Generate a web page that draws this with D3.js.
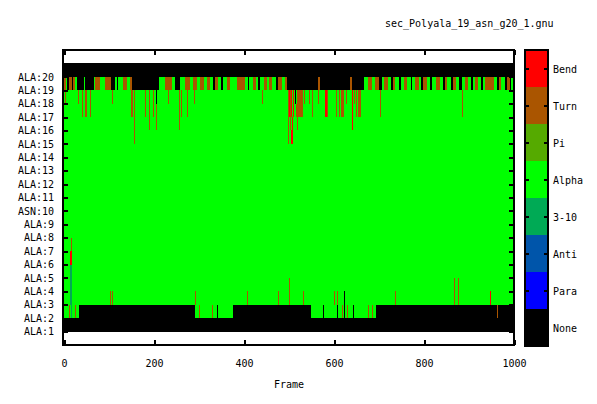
<!DOCTYPE html>
<html><head><meta charset="utf-8">
<script src="https://cdn.jsdelivr.net/npm/d3@7"></script>
<style>
body{margin:0;background:#fff}
svg{display:block}
text{font-family:"DejaVu Sans Mono",monospace;font-size:10px;fill:#000}
</style>
</head><body>
<svg id="chart" width="597" height="404"></svg>
<script>
// ---------------- data ----------------
const title = "sec_Polyala_19_asn_g20_1.gnu";
const xLabel = "Frame";
const residues = ["ALA:1","ALA:2","ALA:3","ALA:4","ALA:5","ALA:6","ALA:7","ALA:8","ALA:9","ASN:10",
  "ALA:11","ALA:12","ALA:13","ALA:14","ALA:15","ALA:16","ALA:17","ALA:18","ALA:19","ALA:20"];
const states = ["None","Para","Anti","3-10","Alpha","Pi","Turn","Bend"];
const frameTicks = [0,200,400,600,800,1000];
const frameCount = 1000;
// default state of each residue (index 0 = ALA:1)
const baseState = ["None","Alpha","Alpha","Alpha","Alpha","Alpha","Alpha","Alpha","Alpha","Alpha",
  "Alpha","Alpha","Alpha","Alpha","Alpha","Alpha","Alpha","Alpha","Alpha","None"];
// residue 2 runs [startFrame, endFrame, state]
const res2Runs = [[33,291,"None"],[376,549,"None"],[693,1000,"None"]];
// residue 19 runs
const res19Runs = [
  [0,5,"Turn"],[5,7,"Alpha"],[7,10,"None"],[10,18,"Turn"],[18,21,"None"],[21,24,"Turn"],[24,28,"Alpha"],
  [28,44,"None"],[44,46,"Alpha"],[46,66,"None"],[66,69,"Alpha"],[69,80,"Turn"],[80,91,"Alpha"],[91,104,"Turn"],
  [104,113,"None"],[113,117,"Alpha"],[117,121,"None"],[121,132,"Alpha"],[132,139,"Turn"],[139,146,"Alpha"],
  [146,150,"Turn"],[150,210,"None"],[210,224,"Alpha"],[224,239,"Turn"],[239,247,"Alpha"],[247,258,"None"],
  [258,269,"Alpha"],[269,280,"Turn"],[280,287,"Alpha"],[287,295,"Turn"],[295,302,"Alpha"],[302,310,"Turn"],
  [310,317,"Alpha"],[317,324,"Turn"],[324,332,"Alpha"],[332,336,"None"],[336,342,"Turn"],[342,350,"Alpha"],
  [350,354,"None"],[354,362,"Alpha"],[362,368,"Turn"],[368,384,"Alpha"],[384,402,"Turn"],[402,408,"Alpha"],
  [408,412,"None"],[412,420,"Alpha"],[420,426,"Turn"],[426,432,"Alpha"],[432,436,"None"],[436,444,"Alpha"],
  [444,450,"Turn"],[450,456,"Alpha"],[456,462,"Turn"],[462,470,"Alpha"],[470,476,"None"],[476,484,"Turn"],
  [484,490,"Alpha"],[490,495,"Turn"],[495,565,"None"],[565,570,"Turn"],[570,636,"None"],[636,640,"Turn"],
  [640,666,"None"],[666,676,"Alpha"],[676,684,"Turn"],[684,690,"Alpha"],[690,700,"Turn"],[700,706,"None"],
  [706,712,"Alpha"],[712,720,"Turn"],[720,726,"Alpha"],[726,730,"None"],[730,736,"Turn"],[736,744,"Alpha"],
  [744,748,"None"],[748,756,"Alpha"],[756,762,"Turn"],[762,770,"Alpha"],[770,774,"None"],[774,780,"Alpha"],
  [780,788,"Turn"],[788,794,"Alpha"],[794,798,"None"],[798,806,"Turn"],[806,814,"Alpha"],[814,818,"None"],
  [818,826,"Alpha"],[826,836,"Turn"],[836,842,"Alpha"],[842,846,"None"],[846,852,"Turn"],[852,860,"Alpha"],
  [860,864,"None"],[864,870,"Turn"],[870,878,"Alpha"],[878,884,"None"],[884,890,"Alpha"],[890,898,"Turn"],
  [898,904,"Alpha"],[904,908,"None"],[908,914,"Alpha"],[914,920,"Turn"],[920,926,"Alpha"],[926,930,"None"],
  [930,936,"Alpha"],[936,956,"Turn"],[956,962,"Alpha"],[962,966,"None"],[966,972,"Turn"],[972,980,"Alpha"],
  [980,984,"None"],[984,990,"Turn"],[990,994,"None"],[994,1000,"Alpha"]
];
// vertical streaks hanging below residue 19: [startFrame, endFrame, lowestResidue, state] (down from 18)
const drips = [
  [1,3,18,"Turn"],[31,33,18,"Turn"],[40,42,17,"Turn"],[46,50,17,"Turn"],[58,61,17,"Turn"],[106,108,18,"Turn"],
  [149,154,17,"Turn"],[155,157,15,"Turn"],[179,181,17,"Turn"],[189,191,16,"Turn"],[198,200,17,"Turn"],
  [204,206,16,"Turn"],[231,233,18,"Turn"],[255,257,16,"Turn"],[260,262,17,"Turn"],[273,275,17,"Turn"],
  [289,291,18,"Turn"],[440,442,18,"Turn"],[497,499,15,"Turn"],[499,504,17,"Bend"],[501,503,16,"Turn"],
  [505,508,15,"Bend"],[516,530,17,"Turn"],[517,519,16,"Turn"],[533,535,18,"Turn"],[544,546,18,"Turn"],
  [551,553,17,"Turn"],[564,566,18,"Turn"],[581,584,17,"Bend"],[584,587,17,"Turn"],[605,607,17,"Turn"],
  [611,613,17,"Turn"],[615,623,17,"Turn"],[626,628,18,"Turn"],[640,642,16,"Bend"],[644,646,18,"Turn"],
  [648,650,17,"Turn"],[653,660,17,"Turn"],[703,705,17,"Turn"],[884,886,17,"Turn"]
];
// single cell marks: [residue, startFrame, endFrame, state]
const cellMarks = [
  [18,204,206,"None"],[18,509,511,"None"],
  [2,10,12,"Turn"],[2,13,17,"3-10"],[3,13,17,"3-10"],[4,13,17,"3-10"],[5,13,17,"3-10"],
  [6,13,17,"Bend"],[7,15,17,"Turn"],[2,24,26,"Turn"],
  [2,301,303,"Turn"],[2,328,330,"Turn"],[2,341,343,"None"],[2,576,578,"None"],[2,606,608,"None"],
  [2,618,620,"Turn"],[2,623,625,"None"],[3,623,625,"None"],[2,628,630,"Turn"],[2,643,645,"None"],
  [2,676,678,"Turn"],[2,684,686,"Turn"],[2,963,965,"Turn"],
  [3,102,104,"Turn"],[3,107,109,"Turn"],[3,290,292,"Turn"],[3,407,409,"Turn"],[3,476,478,"Turn"],
  [3,501,503,"Turn"],[4,501,503,"Turn"],[3,530,532,"Turn"],[3,601,603,"Turn"],[3,606,608,"Turn"],
  [3,736,738,"Turn"],[3,867,869,"Turn"],[4,867,869,"Turn"],[3,876,878,"Turn"],[4,876,878,"Turn"],
  [3,947,949,"Bend"]
];

// ---------------- styles ----------------
const stateColor = {None:"#000000",Para:"#0000ff",Anti:"#0055aa","3-10":"#00aa55",
  Alpha:"#00ff00",Pi:"#55aa00",Turn:"#aa5500",Bend:"#ff0000"};

// ---------------- build grid ----------------
const grid = residues.map((r,i) => new Array(frameCount).fill(baseState[i]));
function paint(res, f0, f1, s){ for(let f=Math.max(0,f0); f<Math.min(frameCount,f1); f++) grid[res-1][f]=s; }
res2Runs.forEach(([a,b,s]) => paint(2,a,b,s));
res19Runs.forEach(([a,b,s]) => paint(19,a,b,s));
drips.forEach(([a,b,low,s]) => { for(let r=low; r<=18; r++) paint(r,a,b,s); });
cellMarks.forEach(([r,a,b,s]) => paint(r,a,b,s));

// ---------------- scales ----------------
const svg = d3.select("#chart");
const x = d3.scaleLinear().domain([0,frameCount]).range([64,514]);
const y = d3.scaleLinear().domain([0,22]).range([345,50]);

// cells as runs
const cells = svg.append("g").attr("shape-rendering","crispEdges");
grid.forEach((row, i) => {
  const res = i+1;
  const y0 = Math.round(y(res+1)), y1 = Math.round(y(res));
  let start = 0, cursor = Math.round(x(0));
  for(let f=1; f<=frameCount; f++){
    if(f===frameCount || row[f]!==row[start]){
      const px0 = Math.max(cursor, Math.round(x(start)));
      let px1 = Math.max(px0+1, Math.round(x(f)));
      px1 = Math.min(px1, Math.round(x(frameCount)));
      if(px1>px0){
        cells.append("rect").attr("x",px0).attr("y",y0).attr("width",px1-px0).attr("height",y1-y0)
          .attr("fill",stateColor[row[start]]);
      }
      cursor = px1;
      start = f;
    }
  }
});

// axes
const resTicks = d3.range(1, residues.length+1);
const gl = svg.append("g").attr("transform","translate(63,0)")
  .call(d3.axisLeft(y).tickValues(resTicks).tickSize(-5).tickPadding(9).tickFormat(d => residues[d-1]));
const gr = svg.append("g").attr("transform","translate(514,0)")
  .call(d3.axisRight(y).tickValues(resTicks).tickSize(-5).tickFormat(""));
const gb = svg.append("g").attr("transform","translate(0,345)")
  .call(d3.axisBottom(x).tickValues(frameTicks).tickSize(-5).tickPadding(15).tickFormat(d3.format("d")));
const gt = svg.append("g").attr("transform","translate(0,50)")
  .call(d3.axisTop(x).tickValues(frameTicks).tickSize(-5).tickFormat(""));
[gl,gr,gb,gt].forEach(g => {
  g.select(".domain").remove();
  g.attr("font-family",null).attr("font-size",null);
  g.selectAll(".tick line").attr("stroke","#000").attr("stroke-width",2).attr("shape-rendering","crispEdges");
  g.selectAll("text").attr("fill","#000");
});

// frame
svg.append("rect").attr("x",63).attr("y",50).attr("width",451).attr("height",295)
  .attr("fill","none").attr("stroke","#000").attr("stroke-width",2).attr("shape-rendering","crispEdges");

// labels
svg.append("text").attr("x",385).attr("y",27).text(title);
svg.append("text").attr("x",(x(0)+x(frameCount))/2).attr("y",388).attr("text-anchor","middle").text(xLabel);

// colour bar legend
const legendStates = states.slice().reverse();
const lb = d3.scaleBand().domain(legendStates).range([50,346]);
const lg = svg.append("g");
lg.selectAll("rect.box").data(legendStates).join("rect").attr("class","box")
  .attr("x",525).attr("y",d=>Math.round(lb(d))).attr("width",23)
  .attr("height",d=>Math.round(lb(d)+lb.bandwidth())-Math.round(lb(d)))
  .attr("fill",d=>stateColor[d]).attr("shape-rendering","crispEdges");
lg.append("rect").attr("x",525).attr("y",50).attr("width",23).attr("height",296)
  .attr("fill","none").attr("stroke","#000").attr("stroke-width",2).attr("shape-rendering","crispEdges");
legendStates.forEach(s => {
  const cy = Math.round(lb(s)+lb.bandwidth()/2);
  lg.append("line").attr("x1",525).attr("x2",529).attr("y1",cy).attr("y2",cy)
    .attr("stroke","#000").attr("stroke-width",2).attr("shape-rendering","crispEdges");
  lg.append("line").attr("x1",544).attr("x2",548).attr("y1",cy).attr("y2",cy)
    .attr("stroke","#000").attr("stroke-width",2).attr("shape-rendering","crispEdges");
  lg.append("text").attr("x",553).attr("y",cy).attr("dy","0.35em").text(s);
});
</script>
</body></html>
